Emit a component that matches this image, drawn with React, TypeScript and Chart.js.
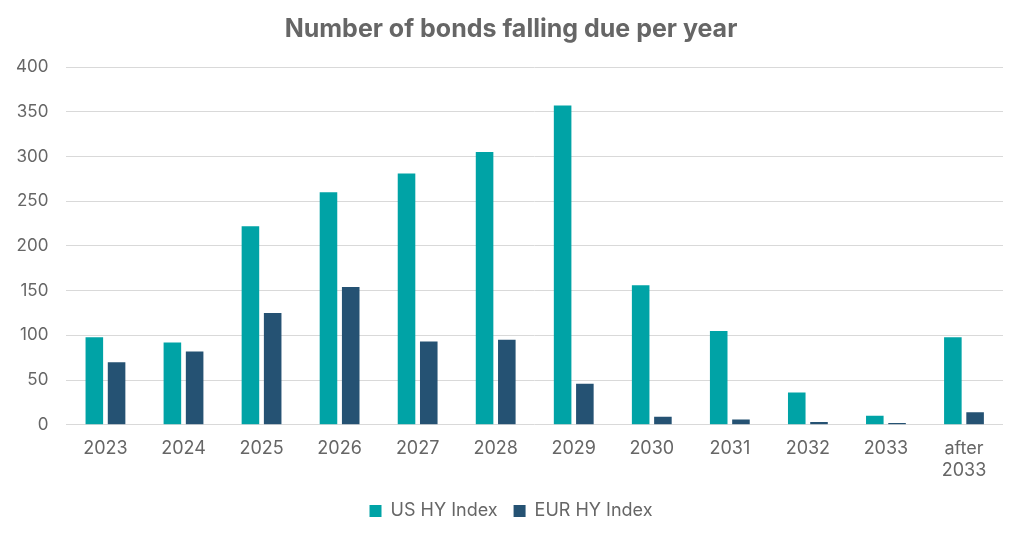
import React, { useEffect, useRef } from "react";
import { Chart, registerables } from "chart.js";

Chart.register(...registerables);

const categories: (string | string[])[] = ["2023", "2024", "2025", "2026", "2027", "2028", "2029", "2030", "2031", "2032", "2033", ["after", "2033"]];
const usHY = [98, 92, 222, 260, 281, 305, 357, 156, 105, 36, 10, 98];
const eurHY = [70, 82, 125, 154, 93, 95, 46, 9, 6, 3, 2, 14];
const titleText = "Number of bonds falling due per year";

export default function App() {
  const ref = useRef<HTMLCanvasElement>(null);
  useEffect(() => {
    if (!ref.current) return;
    const chart = new Chart(ref.current, {
      type: "bar",
      data: {
        labels: categories,
        datasets: [
          { label: "US HY Index", data: usHY, backgroundColor: "#00a3a6", borderWidth: 0 },
          { label: "EUR HY Index", data: eurHY, backgroundColor: "#255273", borderWidth: 0 },
        ],
      },
      options: {
        animation: false,
        responsive: false,
        maintainAspectRatio: false,
        layout: { padding: { left: -2, right: 0, top: 0, bottom: 7 } },
        datasets: { bar: { categoryPercentage: 0.57, barPercentage: 0.79 } },
        plugins: {
          title: {
            display: true,
            text: titleText,
            color: "#666666",
            font: { family: "Inter", size: 25, weight: "bold" },
            padding: { top: 14, bottom: 23 },
          },
          legend: {
            position: "bottom",
            labels: {
              color: "#666666",
              font: { family: "Inter", size: 18 },
              boxWidth: 12,
              boxHeight: 12,
              padding: 16,
            },
          },
          tooltip: { enabled: false },
        },
        scales: {
          x: {
            grid: { display: false },
            border: { display: false },
            ticks: { color: "#666666", font: { family: "Inter", size: 18 }, padding: 5 },
          },
          y: {
            min: 0,
            max: 400,
            ticks: { stepSize: 50, color: "#666666", font: { family: "Inter", size: 17 }, padding: 18 },
            grid: { color: "#d9d9d9", lineWidth: 1, drawTicks: false },
            border: { display: false },
          },
          yRight: {
            position: "right",
            display: true,
            grid: { display: false, drawTicks: false },
            border: { display: false },
            ticks: { display: false },
            afterFit: (scale: any) => {
              scale.width = 21;
            },
          },
        },
      },
    });
    return () => chart.destroy();
  }, []);
  return (
    <div style={{ position: "fixed", left: 0, top: 0, width: 1024, height: 537, background: "#fff" }}>
      <canvas ref={ref} width={1024} height={537} style={{ width: 1024, height: 537 }} />
    </div>
  );
}
